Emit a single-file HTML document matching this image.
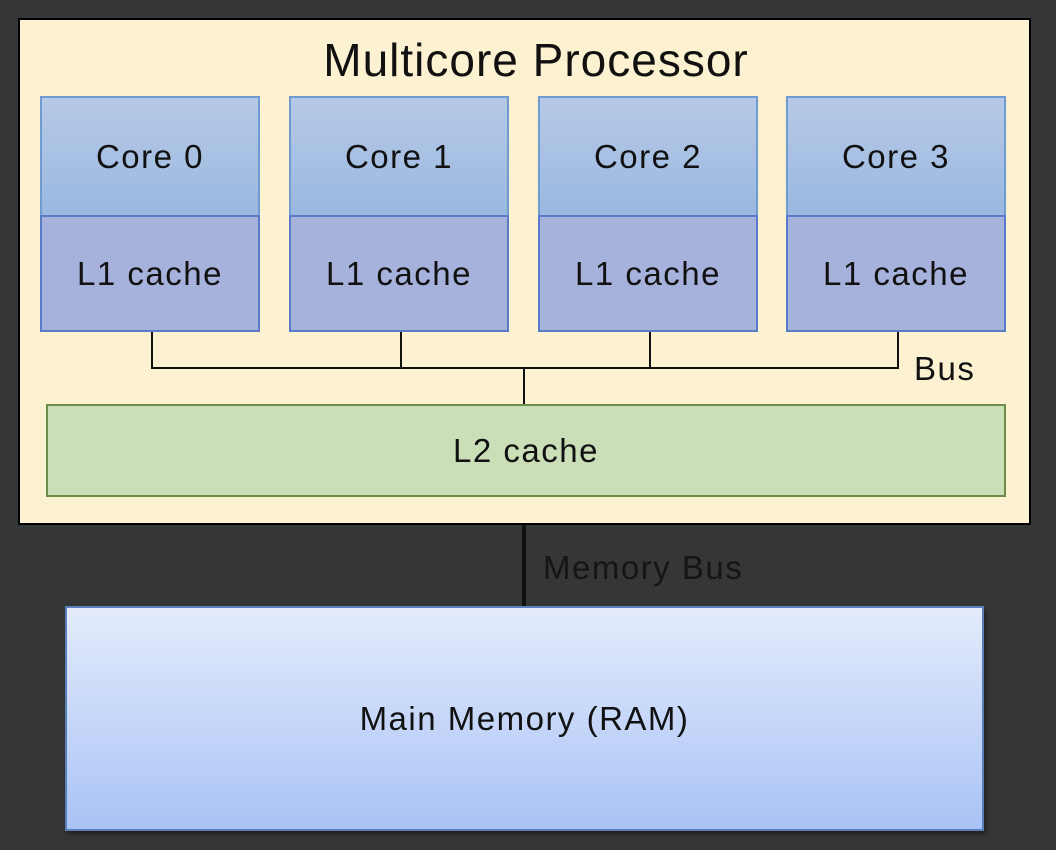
<!DOCTYPE html>
<html><head><meta charset="utf-8"><style>
body{margin:0;width:1056px;height:850px;background:#353638;position:relative;overflow:hidden;font-family:"Liberation Sans","DejaVu Sans",sans-serif;color:#111}
div{position:absolute;box-sizing:border-box}
.c{display:flex;align-items:center;justify-content:center}
.t{font-size:33px;letter-spacing:1.5px}
.core{border:2px solid #6f9bd1;background:linear-gradient(#b6c9e6,#9ab8e0);height:121px;width:220px;top:96px}
.l1{border:2px solid #5a7cc8;background:#a6b2dc;height:117px;width:220px;top:215px}
.ln{background:#111}
</style></head><body>
<div style="left:18px;top:18px;width:1013px;height:507px;background:#fcf1d0;border:2px solid #000"></div>
<div class="c" style="left:0;top:30px;width:1072px;height:60px;font-size:46px;letter-spacing:1px">Multicore Processor</div>

<div class="core c t" style="left:40px">Core 0</div>
<div class="core c t" style="left:289px">Core 1</div>
<div class="core c t" style="left:538px">Core 2</div>
<div class="core c t" style="left:786px">Core 3</div>
<div class="l1 c t" style="left:40px">L1 cache</div>
<div class="l1 c t" style="left:289px">L1 cache</div>
<div class="l1 c t" style="left:538px">L1 cache</div>
<div class="l1 c t" style="left:786px">L1 cache</div>

<div class="ln" style="left:151px;top:332px;width:2px;height:37px"></div>
<div class="ln" style="left:400px;top:332px;width:2px;height:37px"></div>
<div class="ln" style="left:649px;top:332px;width:2px;height:37px"></div>
<div class="ln" style="left:897px;top:332px;width:2px;height:37px"></div>
<div class="ln" style="left:151px;top:367px;width:748px;height:2px"></div>
<div class="ln" style="left:523px;top:367px;width:2px;height:39px"></div>
<div class="t" style="left:914px;top:350px">Bus</div>

<div class="c t" style="left:46px;top:404px;width:960px;height:93px;background:#cadfb8;border:2px solid #6b8e4a">L2 cache</div>

<div class="ln" style="left:522px;top:525px;width:4px;height:81px"></div>
<div class="t" style="left:543px;top:549px;color:#151515">Memory Bus</div>

<div class="c t" style="left:65px;top:606px;width:919px;height:225px;border:2px solid #5b7fb8;background:linear-gradient(#e4ebfc,#a9c3f6);box-shadow:2px 3px 4px rgba(0,0,0,.4)">Main Memory (RAM)</div>
</body></html>
